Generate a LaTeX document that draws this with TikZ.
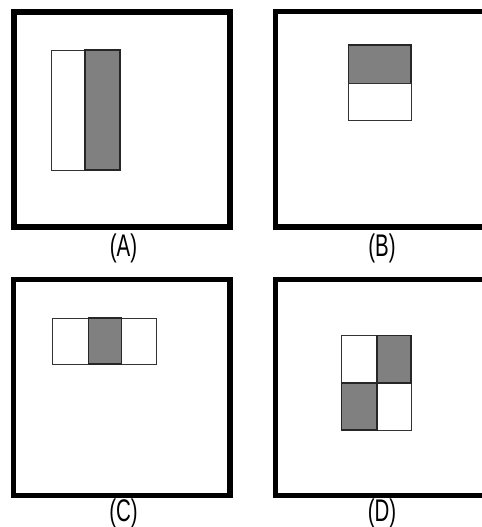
\documentclass[tikz,border=0pt]{standalone}
\usepackage{fontspec}
\setmainfont{Liberation Sans}
\usetikzlibrary{positioning}

\tikzset{
  cadre/.style={line width=3.2pt},
  blanc/.style={draw=black!80, line width=0.5pt, fill=white},
  gris/.style={draw=black!85, line width=0.6pt, fill=black!50},
  etiq/.style={font=\fontsize{13.7}{16}\selectfont, inner sep=0pt, xscale=0.85, yscale=1.3}
}

\begin{document}
\begin{tikzpicture}[x=0.02cm, y=-0.02cm]
        \useasboundingbox (0,0) rectangle (482,527);
        \clip (0,0) rectangle (482,527);

        % Cadres
        \draw[cadre] (13.8,11.7) rectangle (230,227);
        \draw[cadre] (495,11.5) -- (275.5,11.5) -- (275.5,227) -- (495,227);
        \draw[cadre] (13.5,279.5) rectangle (229.7,495.5);
        \draw[cadre] (495,279.5) -- (275.5,279.5) -- (275.5,495.5) -- (495,495.5);

        % (A)
        \draw[blanc] (51.7,50) rectangle (85,170);
        \draw[gris] (85,50) rectangle (120,170);

        % (B)
        \draw[gris] (348.3,45) rectangle (411,83.3);
        \draw[blanc] (348.3,83.3) rectangle (411,120);

        % (C)
        \draw[blanc] (52.7,318) rectangle (88.3,364);
        \draw[blanc] (121.7,318) rectangle (156.7,364);
        \draw[gris] (88.3,318) rectangle (121.7,364);

        % (D)
        \draw[blanc] (341.7,335.7) rectangle (377,383);
        \draw[blanc] (377,383) rectangle (411,430);
        \draw[gris] (377,335.7) rectangle (411,383);
        \draw[gris] (341.7,383) rectangle (377,430);

        % Etiquettes
        \node[etiq] (etiqA) at (123.5,248) {(A)};
        \node[etiq] (etiqB) at (382,248) {(B)};
        \node[etiq] (etiqC) at (123.5,513) {(C)};
        \node[etiq] (etiqD) at (382,513) {(D)};
    \end{tikzpicture}
\end{document}
